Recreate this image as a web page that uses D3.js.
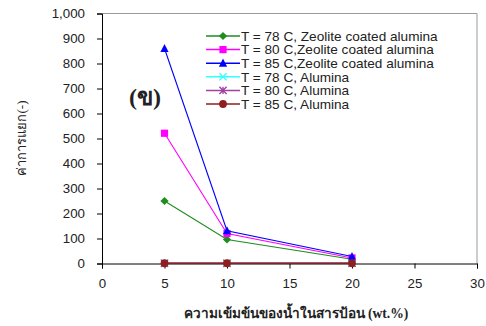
<!DOCTYPE html>
<html><head><meta charset="utf-8">
<script src="https://cdn.jsdelivr.net/npm/d3@7"></script>
<style>body{margin:0;background:#fff}svg{display:block}</style>
</head><body>
<script>
const xValues = [5, 10, 20];
const seriesNames = [
  "T = 78 C, Zeolite coated alumina",
  "T = 80 C,Zeolite coated alumina",
  "T = 85 C,Zeolite coated alumina",
  "T = 78 C, Alumina",
  "T = 80 C, Alumina",
  "T = 85 C, Alumina"
];
const zca78 = [250, 96, 17];
const zca80 = [521, 120, 22];
const zca85 = [860, 131, 28];
const alu78 = [1, 1, 1];
const alu80 = [1, 1, 1];
const alu85 = [1, 1, 1];
const xTicks = [0, 5, 10, 15, 20, 25, 30];
const yTicks = [0, 100, 200, 300, 400, 500, 600, 700, 800, 900, 1000];
const colors = ["#1e8c1e", "#ff00ff", "#0000ff", "#33ffff", "#a040a0", "#8f1f1f"];
const shapes = ["diamond", "square", "triangle", "x", "star", "circle"];
const allSeries = [zca78, zca80, zca85, alu78, alu80, alu85];

const W = 486, H = 326;
const svg = d3.select("body").append("svg").attr("width", W).attr("height", H);
const x = d3.scaleLinear().domain([0, 30]).range([102, 477]);
const y = d3.scaleLinear().domain([0, 1000]).range([263.5, 13.5]);

svg.append("line").attr("x1", 102).attr("x2", 477).attr("y1", 13.5).attr("y2", 13.5).attr("stroke", "#999");
svg.append("line").attr("x1", 477).attr("x2", 477).attr("y1", 13.5).attr("y2", 263.5).attr("stroke", "#999");

const fontAx = "Arial, 'Liberation Sans', sans-serif";
const yAxis = svg.append("g").attr("transform", "translate(102,0)")
  .call(d3.axisLeft(y).tickValues(yTicks).tickFormat(d3.format(",")).tickSize(5).tickPadding(12));
const xAxis = svg.append("g").attr("transform", "translate(0,263.5)")
  .call(d3.axisBottom(x).tickValues(xTicks).tickSize(5).tickPadding(10));
[yAxis, xAxis].forEach(g => {
  g.selectAll("path,line").attr("stroke", "#000");
  g.selectAll("text").attr("font-family", fontAx).attr("font-size", 13.3).attr("fill", "#222");
});

function marker(g, shape, color, cx, cy) {
  const s = 3.6;
  if (shape === "diamond") g.append("path").attr("d", `M${cx},${cy-s-0.5}L${cx+s+0.5},${cy}L${cx},${cy+s+0.5}L${cx-s-0.5},${cy}Z`).attr("fill", color);
  else if (shape === "square") g.append("rect").attr("x", cx-s).attr("y", cy-s).attr("width", 2*s).attr("height", 2*s).attr("fill", color);
  else if (shape === "triangle") g.append("path").attr("d", `M${cx},${cy-s-1}L${cx+s+0.5},${cy+s}L${cx-s-0.5},${cy+s}Z`).attr("fill", color);
  else if (shape === "x") g.append("path").attr("d", `M${cx-s},${cy-s}L${cx+s},${cy+s}M${cx+s},${cy-s}L${cx-s},${cy+s}`).attr("stroke", color).attr("stroke-width", 1.3);
  else if (shape === "star") g.append("path").attr("d", `M${cx-s},${cy-s}L${cx+s},${cy+s}M${cx+s},${cy-s}L${cx-s},${cy+s}M${cx},${cy-s}L${cx},${cy+s}`).attr("stroke", color).attr("stroke-width", 1.3);
  else if (shape === "circle") g.append("circle").attr("cx", cx).attr("cy", cy).attr("r", s+0.3).attr("fill", color);
}

const line = d3.line().x((d, i) => x(xValues[i])).y(d => y(d));
allSeries.forEach((vals, k) => {
  const g = svg.append("g");
  g.append("path").attr("d", line(vals)).attr("fill", "none").attr("stroke", colors[k]).attr("stroke-width", k >= 3 ? 1.5 : 1.1);
  vals.forEach((v, i) => marker(g, shapes[k], colors[k], x(xValues[i]), y(v)));
});

const lg = svg.append("g");
seriesNames.forEach((name, k) => {
  const yy = 36 + k * 13.6;
  lg.append("line").attr("x1", 206).attr("x2", 240).attr("y1", yy).attr("y2", yy).attr("stroke", colors[k]).attr("stroke-width", 1.5);
  marker(lg, shapes[k], colors[k], 223, yy);
  lg.append("text").attr("x", 241).attr("y", yy).attr("dy", "0.35em").attr("font-family", fontAx).attr("font-size", 13.6).attr("fill", "#222").text(name);
});

svg.append("text").attr("x", 145).attr("y", 105).attr("text-anchor", "middle")
  .attr("font-family", "'Times New Roman', 'Liberation Serif', serif").attr("font-weight", "bold").attr("font-size", 24).attr("fill", "#222").text("(ข)");

svg.append("text").attr("transform", "translate(26,138) rotate(-90)").attr("text-anchor", "middle")
  .attr("font-family", "'Liberation Serif', serif").attr("font-size", 13).attr("fill", "#222").text("ค่าการแยก(-)");
svg.append("text").attr("x", 296).attr("y", 318).attr("text-anchor", "middle")
  .attr("font-family", "'Liberation Serif', serif").attr("font-weight", "bold").attr("font-size", 13.6).attr("fill", "#222").text("ความเข้มข้นของน้ำในสารป้อน (wt.%)");
</script>
</body></html>
